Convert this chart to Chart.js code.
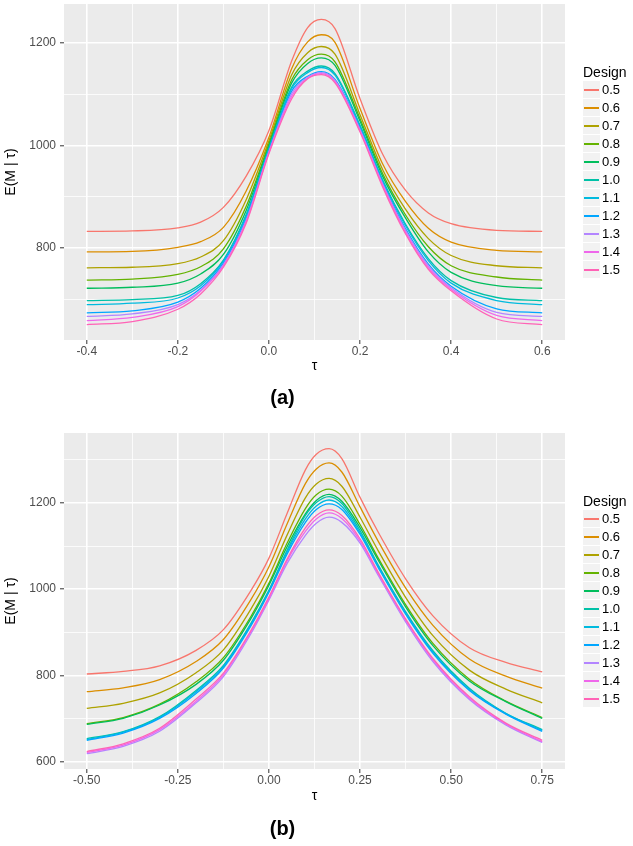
<!DOCTYPE html>
<html>
<head>
<meta charset="utf-8">
<script src="https://cdn.jsdelivr.net/npm/chart.js@4.4.1/dist/chart.umd.min.js"></script>
<style>
html,body{margin:0;padding:0;background:#ffffff;}
body{width:633px;height:846px;position:relative;overflow:hidden;font-family:'Liberation Sans',Arial,Helvetica,sans-serif;}
.panel{position:absolute;left:0;width:633px;height:423px;}
.panel canvas{position:absolute;left:0;top:0;}
.lg{position:absolute;left:583px;top:0;width:50px;}
.lg .ttl{position:absolute;left:0;font-size:14px;line-height:16px;color:#000;white-space:nowrap;}
.lg .key{position:absolute;left:0;width:17px;height:17px;background:#F2F2F2;}
.lg .key i{position:absolute;left:1px;width:15px;top:8px;height:2px;}
.lg .lab{position:absolute;left:19px;font-size:13px;line-height:16px;color:#000;white-space:nowrap;}
</style>
</head>
<body>
<script>
// ---------- data ----------
const designs = ['0.5','0.6','0.7','0.8','0.9','1.0','1.1','1.2','1.3','1.4','1.5'];
const colors  = ['#F8766D','#DB8E00','#AEA200','#64B200','#00BD5C','#00C1A7','#00BADE','#00A6FF','#B385FF','#EF67EB','#FF63B6'];

// panel (a)
const tauA = [-0.4, -0.3, -0.2, -0.15, -0.1, -0.05, 0, 0.05, 0.085, 0.115, 0.145, 0.2, 0.25, 0.3, 0.35, 0.4, 0.5, 0.6];
const a05 = [832, 833, 839, 850, 879, 940, 1029, 1165, 1230, 1246, 1228, 1091, 982, 912, 868, 847, 834, 832];
const a06 = [792, 793, 801, 812, 840, 911, 1016, 1150, 1202, 1216, 1201, 1072, 963, 890, 838, 811, 795, 792];
const a07 = [761, 762, 769, 782, 814, 894, 1009, 1138, 1181, 1193, 1178, 1060, 952, 875, 818, 785, 765, 761];
const a08 = [737, 739, 748, 763, 798, 881, 1003, 1128, 1167, 1178, 1163, 1052, 944, 864, 802, 765, 743, 737];
const a09 = [721, 723, 731, 749, 787, 873, 999, 1122, 1160, 1171, 1156, 1047, 939, 858, 792, 752, 726, 721];
const a10 = [697, 699, 707, 730, 776, 865, 995, 1114, 1145, 1155, 1140, 1039, 932, 846, 779, 736, 703, 697];
const a11 = [689, 692, 702, 726, 774, 862, 993, 1111, 1142, 1152, 1137, 1037, 930, 843, 775, 731, 697, 689];
const a12 = [673, 677, 694, 721, 770, 857, 990, 1106, 1135, 1144, 1129, 1033, 926, 837, 768, 725, 681, 673];
const a13 = [666, 671, 689, 717, 767, 854, 988, 1101, 1133, 1142, 1127, 1031, 924, 834, 765, 722, 674, 666];
const a14 = [658, 664, 685, 715, 765, 851, 986, 1096, 1131, 1140, 1125, 1028, 922, 830, 761, 719, 668, 658];
const a15 = [650, 656, 680, 710, 762, 848, 984, 1091, 1130, 1138, 1122, 1026, 918, 827, 758, 716, 661, 650];
const xMajorA = [-0.4, -0.2, 0, 0.2, 0.4, 0.6];
const xLabelsA = ['-0.4', '-0.2', '0.0', '0.2', '0.4', '0.6'];
const xMinorA = [-0.3, -0.1, 0.1, 0.3, 0.5];
const yMajorA = [800, 1000, 1200];
const yLabelsA = ['800', '1000', '1200'];
const yMinorA = [700, 900, 1100];

// panel (b)
const tauB = [-0.5, -0.4, -0.3, -0.2, -0.125, -0.05, 0, 0.05, 0.1, 0.13, 0.165, 0.2, 0.25, 0.3, 0.375, 0.45, 0.55, 0.65, 0.75];
const b05 = [803, 809, 822, 858, 906, 996, 1072, 1176, 1277, 1313, 1326, 1303, 1213, 1132, 1024, 938, 864, 830, 808];
const b06 = [762, 771, 790, 832, 883, 975, 1052, 1152, 1245, 1279, 1293, 1272, 1191, 1111, 1003, 916, 838, 798, 770];
const b07 = [723, 735, 759, 806, 859, 953, 1030, 1126, 1212, 1244, 1257, 1239, 1167, 1089, 981, 892, 812, 768, 736];
const b08 = [688, 702, 733, 785, 841, 936, 1014, 1107, 1187, 1219, 1232, 1216, 1150, 1072, 964, 874, 791, 740, 702];
const b09 = [686, 700, 731, 779, 835, 931, 1009, 1099, 1175, 1206, 1220, 1204, 1143, 1067, 959, 869, 787, 739, 700];
const b10 = [653, 669, 704, 765, 823, 920, 998, 1091, 1171, 1201, 1215, 1199, 1136, 1056, 948, 857, 770, 712, 674];
const b11 = [651, 668, 702, 762, 820, 917, 995, 1087, 1163, 1193, 1207, 1192, 1131, 1053, 945, 854, 767, 711, 672];
const b12 = [649, 666, 700, 758, 817, 914, 993, 1082, 1155, 1185, 1198, 1185, 1127, 1050, 942, 851, 765, 710, 670];
const b13 = [618, 635, 670, 736, 797, 896, 975, 1060, 1125, 1153, 1167, 1155, 1107, 1032, 924, 832, 744, 685, 644];
const b14 = [621, 638, 674, 740, 801, 900, 978, 1066, 1134, 1163, 1177, 1164, 1112, 1036, 928, 836, 747, 687, 646];
const b15 = [623, 641, 677, 745, 805, 903, 982, 1070, 1142, 1171, 1184, 1171, 1117, 1039, 931, 839, 750, 689, 649];
const xMajorB = [-0.5, -0.25, 0, 0.25, 0.5, 0.75];
const xLabelsB = ['-0.50', '-0.25', '0.00', '0.25', '0.50', '0.75'];
const xMinorB = [-0.375, -0.125, 0.125, 0.375, 0.625];
const yMajorB = [600, 800, 1000, 1200];
const yLabelsB = ['600', '800', '1000', '1200'];
const yMinorB = [700, 900, 1100, 1300];

const legendTitle = 'Design';
const xTitle = 'τ';
const yTitle = 'E(M | τ)';

// ---------- drawing ----------
const FAMILY = "'Liberation Sans', Arial, Helvetica, sans-serif";

const panelBg = {
  id: 'panelBg',
  beforeDraw(chart) {
    const a = chart.chartArea, ctx = chart.ctx;
    ctx.save();
    ctx.fillStyle = '#EBEBEB';
    ctx.fillRect(a.left, a.top, a.right - a.left, a.bottom - a.top);
    ctx.restore();
  }
};

function axisOpts(p, axis) {
  const major = p[axis + 'Major'], minor = p[axis + 'Minor'], labels = p[axis + 'Labels'];
  const isMajor = v => major.indexOf(v) >= 0;
  const o = {
    type: 'linear',
    min: p[axis + 'Min'], max: p[axis + 'Max'],
    afterBuildTicks: s => { s.ticks = major.concat(minor).sort((u, w) => u - w).map(v => ({ value: v })); },
    ticks: {
      autoSkip: false, maxRotation: 0, minRotation: 0,
      color: '#4D4D4D', font: { family: FAMILY, size: 12 },
      padding: axis === 'x' ? 0 : 4,
      callback: v => { const k = major.indexOf(v); return k >= 0 ? labels[k] : ''; }
    },
    grid: {
      color: '#FFFFFF',
      lineWidth: c => (c.tick && isMajor(c.tick.value)) ? 1.6 : 0.8,
      tickColor: c => (c.tick && isMajor(c.tick.value)) ? '#333333' : 'rgba(0,0,0,0)',
      tickLength: 4, tickWidth: 1, drawTicks: true
    },
    border: { display: false }
  };
  if (axis === 'x') {
    o.title = { display: true, text: xTitle, color: '#000', font: { family: FAMILY, size: 14 }, padding: { top: 0, bottom: p.tauPad } };
    o.afterFit = s => { s.height = p.xH; s.paddingLeft = 0; s.paddingRight = 0; };
  } else {
    o.title = { display: true, text: yTitle, color: '#000', font: { family: FAMILY, size: 14 }, padding: { top: 3, bottom: 0 } };
    o.afterFit = s => { s.width = 64; s.paddingTop = 0; s.paddingBottom = 0; };
  }
  return o;
}

function buildPanel(p) {
  const div = document.createElement('div');
  div.className = 'panel';
  div.style.top = p.top + 'px';
  document.body.appendChild(div);
  const cv = document.createElement('canvas');
  cv.width = 633; cv.height = 423;
  cv.style.width = '633px'; cv.style.height = '423px';
  div.appendChild(cv);

  new Chart(cv, {
    type: 'line',
    data: {
      datasets: designs.map((d, i) => ({
        label: d,
        data: p.tau.map((t, j) => ({ x: t, y: p.series[i][j] })),
        borderColor: colors[i], backgroundColor: colors[i],
        borderWidth: 1.3, pointRadius: 0, pointHoverRadius: 0,
        cubicInterpolationMode: 'monotone', fill: false,
        order: designs.length - i
      }))
    },
    options: {
      responsive: false, animation: false, devicePixelRatio: 1,
      events: [],
      layout: { padding: { left: 0, right: 68, top: p.padTop, bottom: p.padBottom } },
      plugins: {
        legend: { display: false },
        tooltip: { enabled: false },
        title: { display: true, position: 'bottom', text: p.title, color: '#000',
                 font: { family: FAMILY, size: 20, weight: 'bold' }, padding: 0 }
      },
      scales: { x: axisOpts(p, 'x'), y: axisOpts(p, 'y') }
    },
    plugins: [panelBg]
  });

  // legend (ggplot style)
  const lg = document.createElement('div');
  lg.className = 'lg';
  const ttl = document.createElement('div');
  ttl.className = 'ttl';
  ttl.textContent = legendTitle;
  ttl.style.top = Math.round(p.padTop + 67.5 - 8) + 'px';
  lg.appendChild(ttl);
  designs.forEach((d, i) => {
    const cy = Math.round(p.padTop + 86 + i * 17.95);
    const key = document.createElement('div');
    key.className = 'key';
    key.style.top = (cy - 9) + 'px';
    const ln = document.createElement('i');
    ln.style.background = colors[i];
    key.appendChild(ln);
    lg.appendChild(key);
    const lab = document.createElement('div');
    lab.className = 'lab';
    lab.textContent = d;
    lab.style.top = (cy - 8) + 'px';
    lg.appendChild(lab);
  });
  div.appendChild(lg);
}

buildPanel({
  top: 0, title: '(a)', padTop: 4, padBottom: 13, xH: 46, tauPad: 11.5,
  tau: tauA, series: [a05, a06, a07, a08, a09, a10, a11, a12, a13, a14, a15],
  xMin: -0.45, xMax: 0.65, yMin: 620, yMax: 1276,
  xMajor: xMajorA, xLabels: xLabelsA, xMinor: xMinorA,
  yMajor: yMajorA, yLabels: yLabelsA, yMinor: yMinorA
});
buildPanel({
  top: 423, title: '(b)', padTop: 10, padBottom: 5, xH: 48, tauPad: 12.5,
  tau: tauB, series: [b05, b06, b07, b08, b09, b10, b11, b12, b13, b14, b15],
  xMin: -0.5625, xMax: 0.8125, yMin: 582.5, yMax: 1362.5,
  xMajor: xMajorB, xLabels: xLabelsB, xMinor: xMinorB,
  yMajor: yMajorB, yLabels: yLabelsB, yMinor: yMinorB
});
</script>
</body>
</html>
